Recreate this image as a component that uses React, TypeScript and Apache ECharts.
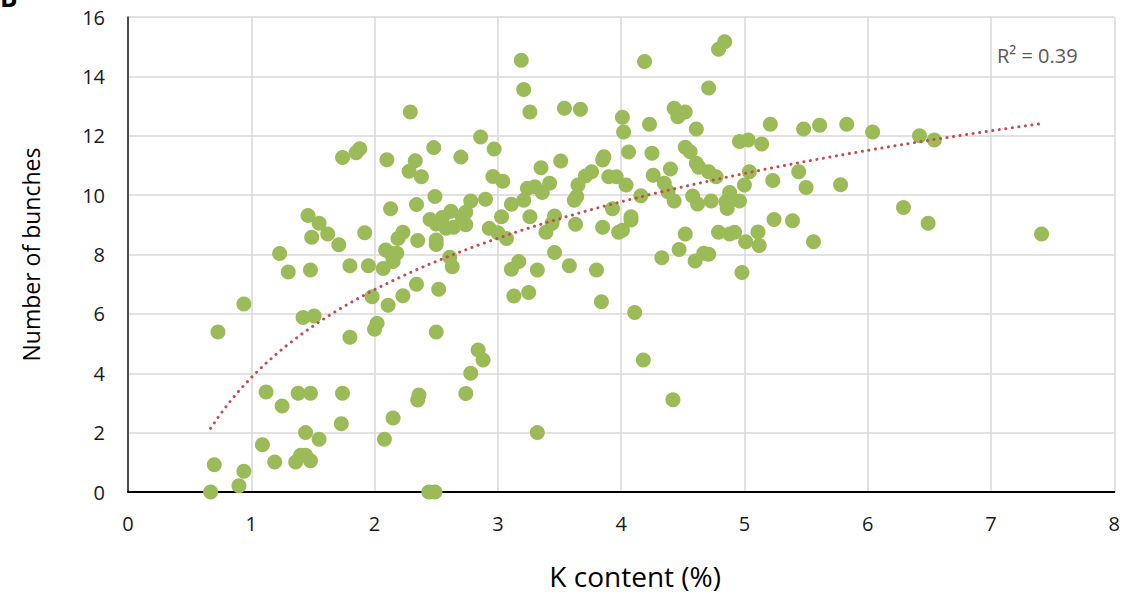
import React, { useEffect, useRef } from "react";
import * as echarts from "echarts";

const kContent: number[] = [
  0.94, 0.73, 1.42, 1.51, 1.80, 2.00, 2.02, 1.12, 1.25, 1.38, 1.48, 1.74, 1.73, 1.44, 1.55, 1.09, 1.19, 1.36, 1.40, 1.44, 1.48, 0.70, 0.94, 0.90, 0.67,
  1.74, 1.85, 1.88, 1.46, 1.55, 1.49, 1.62, 1.71, 1.92, 1.23, 1.30, 1.48, 1.80, 1.95, 1.98,
  3.19, 3.21, 3.26, 3.54, 3.67, 2.29, 2.86, 2.97, 2.10, 2.48, 2.70, 2.33, 2.28, 2.38, 2.96, 3.04, 3.35, 3.51, 3.86, 3.85,
  3.24, 3.30, 3.36, 3.42, 3.21, 3.11, 3.65, 3.64, 3.62, 3.71, 3.76, 2.90, 2.78, 2.49, 2.34, 2.13, 2.74, 2.71, 2.62, 2.45,
  2.55, 2.50, 2.58, 2.64, 2.74, 3.03, 3.26, 3.46, 3.44, 3.39, 3.63, 3.85, 3.93, 2.93, 3.00, 3.07, 2.23, 2.19, 2.35, 2.50,
  2.50, 2.09, 2.13, 2.18, 2.15, 2.07, 2.61, 2.63, 2.23, 2.34, 2.52, 2.11, 3.17, 3.11, 3.32, 3.46, 3.58, 3.80, 3.13, 3.25, 3.84,
  2.50, 2.84, 2.88, 2.78, 2.74, 2.36, 2.35, 2.15, 2.08, 3.32, 2.44, 2.49,
  4.84, 4.79, 4.19, 4.71, 4.43, 4.46, 4.52, 4.01, 4.02, 4.23, 4.61, 5.21, 5.48, 5.61, 5.83, 4.96, 5.03, 5.14, 4.06, 4.25,
  4.52, 4.56, 4.61, 4.63, 4.71, 4.77, 4.40, 4.26, 3.90, 3.96, 4.04, 4.35, 4.38, 4.16, 4.43, 4.58, 4.62, 4.73, 4.88, 4.85,
  4.86, 4.96, 5.00, 5.04, 5.23, 5.44, 5.50, 5.78, 4.08, 4.08, 3.98, 4.01, 4.52, 4.79, 4.88, 4.92, 5.11, 5.24, 5.39, 5.01,
  5.12, 5.56, 4.47, 4.67, 4.71, 4.60, 4.33, 4.98,
  4.11, 4.18, 4.42,
  6.04, 6.42, 6.54, 6.29, 6.49, 7.41,
];

const bunches: number[] = [
  6.33, 5.39, 5.88, 5.93, 5.21, 5.48, 5.68, 3.37, 2.90, 3.33, 3.33, 3.33, 2.30, 2.00, 1.78, 1.59, 1.01, 1.01, 1.24, 1.24, 1.05, 0.92, 0.70, 0.21, 0.00,
  11.27, 11.43, 11.56, 9.31, 9.05, 8.58, 8.69, 8.33, 8.73, 8.03, 7.41, 7.48, 7.62, 7.62, 6.58,
  14.54, 13.56, 12.80, 12.93, 12.89, 12.80, 11.96, 11.55, 11.19, 11.60, 11.28, 11.16, 10.80, 10.62, 10.63, 10.47, 10.92, 11.15, 11.29, 11.18,
  10.23, 10.28, 10.09, 10.40, 9.83, 9.69, 10.34, 9.95, 9.83, 10.64, 10.79, 9.86, 9.80, 9.95, 9.68, 9.54, 9.42, 9.27, 9.46, 9.18,
  9.25, 9.03, 8.88, 8.92, 9.00, 9.27, 9.27, 9.30, 9.05, 8.75, 9.02, 8.92, 9.54, 8.88, 8.73, 8.54, 8.75, 8.54, 8.47, 8.49,
  8.34, 8.15, 8.04, 8.04, 7.76, 7.53, 7.91, 7.59, 6.61, 7.00, 6.83, 6.29, 7.76, 7.50, 7.48, 8.07, 7.62, 7.48, 6.60, 6.72, 6.41,
  5.39, 4.78, 4.45, 4.00, 3.32, 3.27, 3.10, 2.49, 1.78, 2.00, 0.00, 0.00,
  15.17, 14.91, 14.50, 13.61, 12.93, 12.64, 12.80, 12.62, 12.13, 12.39, 12.23, 12.39, 12.23, 12.35, 12.39, 11.81, 11.86, 11.72, 11.45, 11.41,
  11.61, 11.46, 11.07, 10.94, 10.79, 10.62, 10.88, 10.67, 10.62, 10.62, 10.34, 10.40, 10.11, 9.98, 9.80, 9.97, 9.70, 9.80, 10.09, 9.78,
  9.55, 9.80, 10.34, 10.79, 10.49, 10.79, 10.26, 10.35, 9.27, 9.16, 8.75, 8.82, 8.69, 8.75, 8.69, 8.75, 8.76, 9.18, 9.14, 8.43,
  8.30, 8.43, 8.17, 8.04, 8.01, 7.78, 7.89, 7.39,
  6.05, 4.45, 3.11,
  12.13, 12.00, 11.86, 9.58, 9.05, 8.69,
];

const xTicks = [0, 8, 1];
const yTicks = [0, 16, 2];
const r2Label = "R\u00b2 = 0.39";
const xTitle = "K content (%)";
const yTitle = "Number of bunches";
const panelLabel = "B";

function logFit(xs: number[], ys: number[]) {
  const pts = xs.map((x, i) => [Math.log(x), ys[i]]);
  const n = pts.length;
  const mx = pts.reduce((s, p) => s + p[0], 0) / n;
  const my = pts.reduce((s, p) => s + p[1], 0) / n;
  let sxy = 0, sxx = 0;
  pts.forEach((p) => { sxy += (p[0] - mx) * (p[1] - my); sxx += (p[0] - mx) ** 2; });
  const a = sxy / sxx;
  const b = my - a * mx;
  return { a, b };
}

export default function App() {
  const ref = useRef<HTMLDivElement>(null);
  useEffect(() => {
    document.body.style.margin = "0";
    if (!ref.current) return;
    const chart = echarts.init(ref.current, null, { renderer: "svg" });
    const font = "Open Sans";
    const scatterData = kContent.map((x, i) => [x, bunches[i]]);
    const { a, b } = logFit(kContent, bunches);
    const xmin = Math.min(...kContent);
    const xmax = Math.max(...kContent);
    const trend: number[][] = [];
    const steps = 120;
    for (let i = 0; i <= steps; i++) {
      const x = xmin + ((xmax - xmin) * i) / steps;
      trend.push([x, a * Math.log(x) + b]);
    }
    chart.setOption({
      animation: false,
      textStyle: { fontFamily: font },
      grid: { left: 128, right: 7, top: 17, bottom: 94, containLabel: false },
      xAxis: {
        type: "value",
        min: xTicks[0],
        max: xTicks[1],
        interval: xTicks[2],
        name: xTitle,
        nameLocation: "middle",
        nameGap: 70,
        nameTextStyle: { fontSize: 28, color: "#000", fontFamily: font, padding: [0, 0, 0, 28] },
        axisLine: { show: true, onZero: false, lineStyle: { color: "#000", width: 2 } },
        axisTick: { show: false },
        axisLabel: { margin: 21, fontSize: 20, color: "#1a1a1a", fontFamily: font },
        splitLine: { show: true, lineStyle: { color: "#d9d9d9", width: 1.5 } },
      },
      yAxis: {
        type: "value",
        min: yTicks[0],
        max: yTicks[1],
        interval: yTicks[2],
        name: yTitle,
        nameLocation: "middle",
        nameGap: 86,
        nameTextStyle: { fontSize: 23, color: "#000", fontFamily: font },
        axisLine: { show: true, lineStyle: { color: "#1a1a1a", width: 1.5 } },
        axisTick: { show: false },
        axisLabel: { margin: 23, fontSize: 20, color: "#1a1a1a", fontFamily: font },
        splitLine: { show: true, lineStyle: { color: "#d9d9d9", width: 1.5 } },
      },
      series: [
        {
          type: "scatter",
          data: scatterData,
          symbolSize: 15,
          itemStyle: { color: "#9BBB59", opacity: 1 },
          z: 2,
        },
        {
          type: "line",
          data: trend,
          showSymbol: false,
          symbol: "none",
          smooth: false,
          lineStyle: { color: "#C0504D", width: 3, type: [0.1, 6.5], cap: "round" },
          z: 3,
        },
      ],
      graphic: [
        {
          type: "text",
          left: 997,
          top: 45,
          style: { text: r2Label, fontSize: 20, fill: "#595959", fontFamily: font },
        },
        {
          type: "text",
          left: 0,
          top: -16,
          style: { text: panelLabel, fontSize: 26, fontWeight: "bold", fill: "#000", fontFamily: font },
        },
      ],
    });
    return () => chart.dispose();
  }, []);
  return <div ref={ref} style={{ width: 1123, height: 595 }} />;
}
